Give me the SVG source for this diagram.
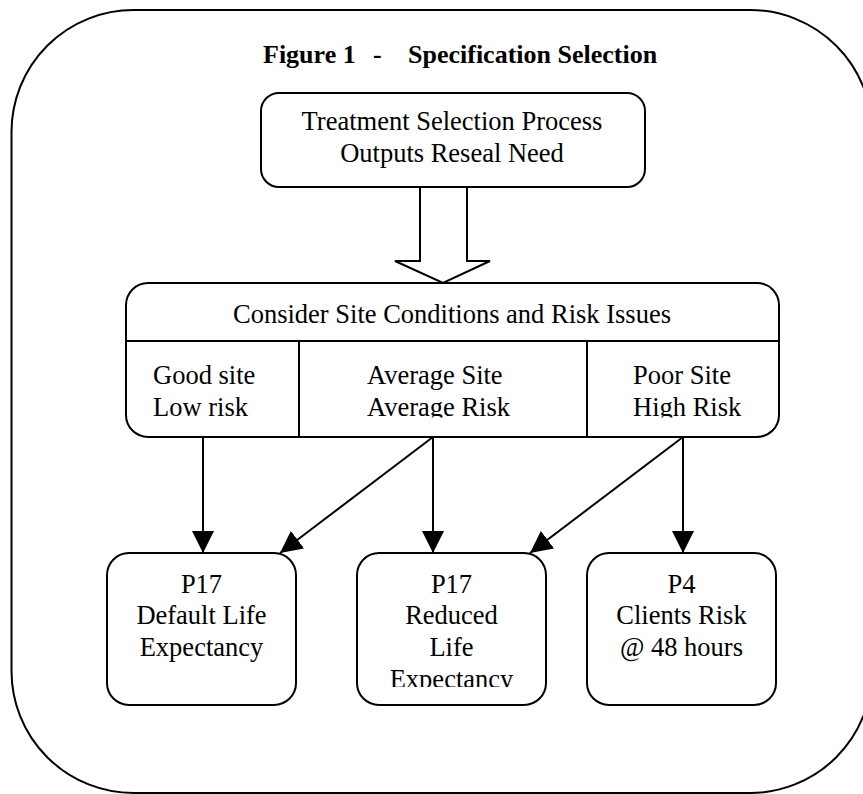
<svg xmlns="http://www.w3.org/2000/svg" width="863" height="794" viewBox="0 0 863 794">
  <style>
    .box { fill: #ffffff; stroke: #000000; stroke-width: 2; }
    .line { fill: none; stroke: #000000; stroke-width: 2; }
    .txt { font-family: "Liberation Serif", "Times New Roman", serif; font-size: 26.5px; fill: #000000; }
    .mid { text-anchor: middle; }
    .title { font-family: "Liberation Serif", "Times New Roman", serif; font-size: 26px; font-weight: bold; fill: #000000; }
  </style>
  <defs>
    <marker id="head" markerUnits="userSpaceOnUse" markerWidth="22" markerHeight="22" viewBox="0 0 20 20" refX="20" refY="10" orient="auto">
      <path d="M0,0 L20,10 L0,20 Z" fill="#000000"/>
    </marker>
    <clipPath id="rowClip">
      <rect x="126" y="341" width="653" height="76.5"/>
    </clipPath>
    <clipPath id="reducedClip">
      <rect x="357" y="553" width="189" height="134"/>
    </clipPath>
  </defs>

  <rect width="863" height="794" fill="#ffffff"/>

  <!-- outer frame -->
  <g id="frame">
    <rect x="11.5" y="10" width="860.5" height="783" rx="122" ry="122" class="line" stroke-width="1.8"/>
  </g>

  <!-- heading -->
  <g id="heading">
    <text class="title" x="263" y="63">Figure 1</text>
    <text class="title" x="373" y="63">-</text>
    <text class="title" x="408" y="63">Specification Selection</text>
  </g>

  <!-- connectors -->
  <g id="connectors">
    <polygon class="box" points="420,187 420,261 395,261 443,283 490,261 467,261 467,187"/>
    <line class="line" x1="203" y1="437" x2="203" y2="553" marker-end="url(#head)"/>
    <line class="line" x1="433" y1="437" x2="280" y2="553" marker-end="url(#head)"/>
    <line class="line" x1="433" y1="437" x2="433" y2="553" marker-end="url(#head)"/>
    <line class="line" x1="683" y1="437" x2="530" y2="553" marker-end="url(#head)"/>
    <line class="line" x1="683" y1="437" x2="683" y2="553" marker-end="url(#head)"/>
  </g>

  <g id="treatment">
    <rect class="box" x="261" y="93" width="384" height="94" rx="18" ry="18"/>
    <text class="txt mid" x="452" y="130">Treatment Selection Process</text>
    <text class="txt mid" x="452" y="162">Outputs Reseal Need</text>
  </g>

  <g id="conditions">
    <rect class="box" x="126" y="283" width="653" height="154" rx="22" ry="22"/>
    <line class="line" x1="126" y1="341" x2="779" y2="341"/>
    <line class="line" x1="299" y1="341" x2="299" y2="437"/>
    <line class="line" x1="587" y1="341" x2="587" y2="437"/>
    <text class="txt mid" x="452" y="323">Consider Site Conditions and Risk Issues</text>
    <g clip-path="url(#rowClip)">
      <text class="txt" x="153" y="384">Good site</text>
      <text class="txt" x="153" y="416">Low risk</text>
      <text class="txt" x="367" y="384">Average Site</text>
      <text class="txt" x="367" y="416">Average Risk</text>
      <text class="txt" x="633" y="384">Poor Site</text>
      <text class="txt" x="633" y="416">High Risk</text>
    </g>
  </g>

  <g id="p17-default">
    <rect class="box" x="107" y="553" width="189" height="152" rx="22" ry="22"/>
    <text class="txt mid" x="201.5" y="593">P17</text>
    <text class="txt mid" x="201.5" y="624">Default Life</text>
    <text class="txt mid" x="201.5" y="656">Expectancy</text>
  </g>

  <g id="p17-reduced">
    <rect class="box" x="357" y="553" width="189" height="152" rx="22" ry="22"/>
    <g clip-path="url(#reducedClip)">
      <text class="txt mid" x="451.5" y="593">P17</text>
      <text class="txt mid" x="451.5" y="624">Reduced</text>
      <text class="txt mid" x="451.5" y="656">Life</text>
      <text class="txt mid" x="451.5" y="688">Expectancy</text>
    </g>
  </g>

  <g id="p4-clients">
    <rect class="box" x="587" y="553" width="189" height="152" rx="22" ry="22"/>
    <text class="txt mid" x="681.5" y="593">P4</text>
    <text class="txt mid" x="681.5" y="624">Clients Risk</text>
    <text class="txt mid" x="681.5" y="656">@ 48 hours</text>
  </g>
</svg>
